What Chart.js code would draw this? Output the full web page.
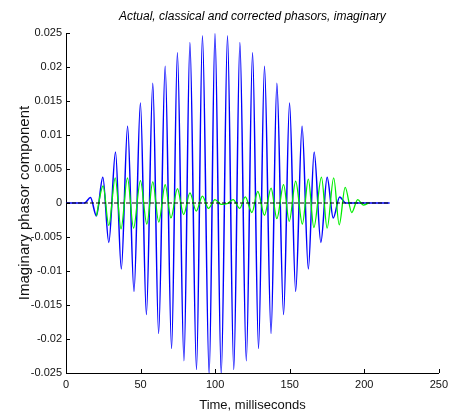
<!DOCTYPE html>
<html>
<head>
<meta charset="utf-8">
<script src="https://cdn.jsdelivr.net/npm/chart.js@4/dist/chart.umd.min.js"></script>
<style>
  body { margin: 0; background: #fff; }
  #wrap { width: 453px; height: 417px; }
</style>
</head>
<body>
<div id="wrap"><canvas id="phasorChart" width="453" height="417"></canvas></div>
<script>
// values (time in ms, imaginary part)
const actualTimes = [0, 217];
const actualValues = [0, 0];

const classicalTimes = [
    0, 12.5, 16.4, 20.4, 24.7, 28.7, 33.2, 37.1, 41.3, 45.6, 49.9, 53.9, 58.2, 62.1,
    66.5, 70.8, 74.7, 79.1, 83.1, 87.5, 91.5, 96.0, 99.9, 104.1, 108.3, 112.5, 116.6,
    120.9, 125.1, 129.1, 133.1, 137.5, 141.4, 145.9, 149.9, 154.0, 158.3, 162.5, 166.4,
    170.9, 175.1, 179.2, 183.5, 187.5, 217
];
const classicalValues = [
    0, 0, 0.0008, -0.0019, 0.0038, -0.0058, 0.0075, -0.0097, 0.0113, -0.0130, 0.0147,
    -0.0164, 0.0176, -0.0192, 0.0201, -0.0214, 0.0221, -0.0232, 0.0236, -0.0245, 0.0246,
    -0.0252, 0.0249, -0.0252, 0.0246, -0.0245, 0.0236, -0.0232, 0.0221, -0.0214, 0.0201,
    -0.0192, 0.0176, -0.0164, 0.0147, -0.0130, 0.0113, -0.0097, 0.0075, -0.0058, 0.0038,
    -0.0022, 0.0009, 0, 0
];

const correctedTimes = [
    20.4, 24.9, 28.7, 33.0, 36.9, 41.2, 45.3, 49.9, 54.2, 58.2, 62.2, 66.5, 70.4, 74.7,
    78.9, 83.1, 87.3, 91.5, 95.5, 99.9, 104.0, 108.0, 112.1, 116.5, 120.2, 124.7, 128.6,
    133.1, 137.5, 141.4, 145.9, 149.7, 154.0, 158.5, 162.5, 166.2, 171.3, 175.1, 179.5,
    183.2, 187.2, 191.6, 195.6, 199.4, 203
];
const correctedValues = [
    -0.0019, 0.0025, -0.0033, 0.0037, -0.0038, 0.0037, -0.0037, 0.0033, -0.0031, 0.0031,
    -0.0028, 0.0027, -0.0022, 0.0021, -0.0017, 0.0015, -0.0012, 0.0010, -0.0008, 0.0005,
    -0.0002, -0.0001, 0.0005, -0.0008, 0.0009, -0.0014, 0.0017, -0.0018, 0.0022, -0.0023,
    0.0027, -0.0027, 0.0032, -0.0031, 0.0035, -0.0036, 0.0038, -0.0037, 0.0037, -0.0032,
    0.0023, -0.0014, 0.0005, -0.0003, 0
];

const xTicks = [0, 50, 100, 150, 200, 250];
const xTickLabels = ["0", "50", "100", "150", "200", "250"];
const yTicks = [-0.025, -0.02, -0.015, -0.01, -0.005, 0, 0.005, 0.01, 0.015, 0.02, 0.025];
const yTickLabels = ["-0.025", "-0.02", "-0.015", "-0.01", "-0.005", "0", "0.005", "0.01", "0.015", "0.02", "0.025"];

const FONT = "'Liberation Sans', Arial, sans-serif";

function toPoints(times, values) {
    return times.map((t, i) => ({ x: t, y: values[i] }));
}

// small tick marks pointing into the plot, matlab style
const inwardTicks = {
    id: "inwardTicks",
    afterDraw(chart) {
        const { ctx, chartArea, scales } = chart;
        ctx.save();
        ctx.strokeStyle = "#000";
        ctx.lineWidth = 1;
        ctx.beginPath();
        for (const v of xTicks) {
            const px = Math.round(scales.x.getPixelForValue(v)) + 0.5;
            ctx.moveTo(px, chartArea.bottom);
            ctx.lineTo(px, chartArea.bottom - 4);
        }
        for (const v of yTicks) {
            const py = Math.round(scales.y.getPixelForValue(v)) + 0.5;
            ctx.moveTo(chartArea.left, py);
            ctx.lineTo(chartArea.left + 4, py);
        }
        ctx.stroke();
        ctx.restore();
    }
};

function init() {
    const lineBase = {
        pointRadius: 0,
        fill: false,
        cubicInterpolationMode: "monotone"
    };

    new Chart(document.getElementById("phasorChart"), {
        type: "line",
        data: {
            datasets: [
                {
                    label: "Actual",
                    data: toPoints(actualTimes, actualValues),
                    borderColor: "#000",
                    borderDash: [4, 2],
                    borderWidth: 1,
                    pointRadius: 0,
                    fill: false
                },
                Object.assign({
                    label: "Corrected",
                    data: toPoints(correctedTimes, correctedValues),
                    borderColor: "#00ee00",
                    borderWidth: 1.3
                }, lineBase),
                Object.assign({
                    label: "Classical",
                    data: toPoints(classicalTimes, classicalValues),
                    borderColor: "#0000ff",
                    borderWidth: 1.5
                }, lineBase)
            ]
        },
        options: {
            responsive: false,
            animation: false,
            devicePixelRatio: 1,
            layout: { padding: { left: 0, right: 10, top: 0, bottom: 0 } },
            plugins: {
                legend: { display: false },
                tooltip: { enabled: false },
                title: {
                    display: true,
                    fullSize: false,
                    text: "Actual, classical and corrected phasors, imaginary",
                    color: "#000",
                    font: { family: FONT, size: 12, style: "italic", weight: "normal" },
                    padding: { top: 9, bottom: 9.6 }
                }
            },
            scales: {
                x: {
                    type: "linear",
                    min: 0,
                    max: 250,
                    afterBuildTicks: (s) => { s.ticks = xTicks.map(v => ({ value: v })); },
                    afterFit: (s) => { s.height = 44; },
                    grid: { display: false, drawTicks: false },
                    border: { display: true, color: "#000", width: 1 },
                    ticks: {
                        color: "#111",
                        padding: 5,
                        maxRotation: 0,
                        font: { family: FONT, size: 11 },
                        callback: (v) => xTickLabels[xTicks.indexOf(v)]
                    },
                    title: {
                        display: true,
                        text: "Time, milliseconds",
                        color: "#111",
                        font: { family: FONT, size: 13 },
                        padding: { top: 0, bottom: 4 }
                    }
                },
                y: {
                    type: "linear",
                    min: -0.025,
                    max: 0.025,
                    afterBuildTicks: (s) => { s.ticks = yTicks.map(v => ({ value: v })); },
                    afterFit: (s) => { s.width = 66; },
                    grid: { display: false, drawTicks: false },
                    border: { display: true, color: "#000", width: 1 },
                    ticks: {
                        color: "#111",
                        padding: 4,
                        font: { family: FONT, size: 11 },
                        callback: (v) => yTickLabels[yTicks.indexOf(v)]
                    },
                    title: {
                        display: true,
                        text: "Imaginary phasor component",
                        color: "#111",
                        font: { family: FONT, size: 15 },
                        padding: { top: 16, bottom: 0 }
                    }
                }
            }
        },
        plugins: [inwardTicks]
    });
}

document.addEventListener("DOMContentLoaded", init);
</script>
</body>
</html>
